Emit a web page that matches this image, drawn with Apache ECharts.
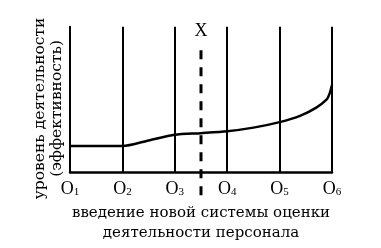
<!DOCTYPE html>
<html>
<head>
<meta charset="utf-8">
<script src="https://cdn.jsdelivr.net/npm/echarts@6/dist/echarts.min.js"></script>
<style>html,body{margin:0;padding:0;background:#fff}#c{width:381px;height:248px}</style>
</head>
<body>
<div id="c"></div>
<script>
// Categories (stages O1..O6 placed at 0..5)
const tickLabels = ['O1', 'O2', 'O3', 'O4', 'O5', 'O6'];
// Curve: [stage position, performance level]
const curveX = [0, 1, 1.5, 2, 2.5, 3, 3.5, 4, 4.4, 4.7, 4.9, 4.95, 5];
const curveY = [17.9, 17.9, 21.8, 25.7, 26.8, 28.1, 30.6, 34.4, 38.9, 44.4, 50, 53.6, 59.9];
// Dashed marker "X" (introduction of new evaluation system)
const markerX = [2.5, 2.5];
const markerY = [-16, 85];
const markerLabel = 'X';
const xTitle = 'введение новой системы оценки\nдеятельности персонала';
const yTitle = 'уровень деятельности\n(эффективность)';

const FONT = 'DejaVu Serif';
const chart = echarts.init(document.getElementById('c'), null, {renderer: 'canvas'});
chart.setOption({
  animation: false,
  backgroundColor: '#fff',
  grid: {left: 70, right: 49, top: 17, bottom: 69},
  xAxis: {
    type: 'value', min: 0, max: 5, interval: 1,
    axisLine: {show: true, lineStyle: {color: '#000', width: 2.5}},
    axisTick: {show: false},
    splitLine: {show: true, lineStyle: {color: '#000', width: 2}},
    axisLabel: {
      margin: 8,
      formatter: v => { const s = tickLabels[Math.round(v)]; return '{o|' + s[0] + '}{s|' + s.slice(1) + '}'; },
      rich: {
        o: {fontFamily: 'Liberation Serif', fontSize: 18, color: '#000'},
        s: {fontFamily: 'Liberation Serif', fontSize: 11, color: '#000', verticalAlign: 'bottom', padding: [4, 0, 0, 0]}
      }
    },
    name: xTitle, nameLocation: 'middle', nameGap: 28,
    nameTextStyle: {fontFamily: FONT, fontSize: 15, color: '#000', lineHeight: 20}
  },
  yAxis: {
    type: 'value', min: 0, max: 100,
    axisLine: {show: true, lineStyle: {color: '#000', width: 2}},
    axisTick: {show: false},
    splitLine: {show: false},
    axisLabel: {show: false},
    name: yTitle, nameLocation: 'middle', nameGap: 5,
    nameTextStyle: {fontFamily: FONT, fontSize: 15.5, color: '#000', lineHeight: 17, padding: [0, 18, 0, 0]}
  },
  series: [
    {
      type: 'line', smooth: 0.25, symbol: 'none',
      lineStyle: {color: '#000', width: 2.5},
      data: curveX.map((x, i) => [x, curveY[i]])
    },
    {
      type: 'line', symbol: 'circle', symbolSize: 1, clip: false,
      itemStyle: {color: 'rgba(0,0,0,0)'},
      lineStyle: {color: '#000', width: 3, type: [9, 8]},
      data: markerX.map((x, i) => {
        const d = {value: [x, markerY[i]]};
        if (i === 1) {
          d.label = {show: true, position: 'top', distance: 8, formatter: markerLabel,
            fontFamily: 'Liberation Serif', fontSize: 18, color: '#000'};
        }
        return d;
      })
    }
  ]
});
</script>
</body>
</html>
